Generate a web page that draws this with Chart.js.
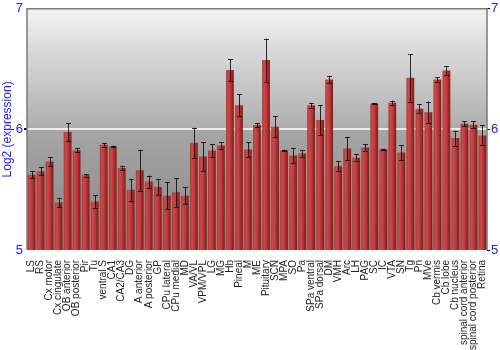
<!DOCTYPE html>
<html>
<head>
<meta charset="utf-8">
<script src="https://cdn.jsdelivr.net/npm/chart.js@4"></script>
<style>
html,body{margin:0;padding:0;background:#fff;}
#wrap{width:500px;height:350px;}
</style>
</head>
<body>
<div id="wrap"><canvas id="c" width="500" height="350"></canvas></div>
<script>
const categories = ["LS","RS","Cx motor","Cx cingulate","OB anterior","OB posterior","Pir","Tu","ventral S","CA1","CA2/CA3","DG","A anterior","A posterior","GP","CPu lateral","CPu medial","MD","VA/VL","VPM/VPL","LG","MG","Hb","Pineal","M","ME","Pituitary","SCN","MPA","SO","Pa","SPa ventral","SPa dorsal","DM","VMH","Arc","LH","PAG","SC","IC","VTA","SN","Tg","Pn","MVe","Cb vermis","Cb lobe","Cb nucleus","spinal cord anterior","spinal cord posterior","Retina"];
const means = [5.625,5.653,5.733,5.394,5.978,5.828,5.619,5.403,5.872,5.858,5.68,5.5,5.661,5.567,5.522,5.45,5.478,5.45,5.889,5.775,5.825,5.867,6.492,6.2,5.833,6.036,6.575,6.022,5.828,5.783,5.8,6.2,6.078,6.414,5.694,5.842,5.764,5.85,6.214,5.836,6.222,5.808,6.428,6.172,6.142,6.414,6.489,5.928,6.047,6.039,5.95];
const errors = [0.028,0.033,0.037,0.04,0.075,0.015,0.01,0.053,0.014,0.008,0.02,0.09,0.17,0.05,0.068,0.11,0.12,0.072,0.125,0.12,0.05,0.028,0.09,0.09,0.062,0.017,0.178,0.089,0.005,0.064,0.028,0.02,0.124,0.032,0.04,0.097,0.028,0.026,0.004,0.003,0.017,0.061,0.197,0.039,0.089,0.017,0.037,0.062,0.021,0.029,0.083];
const yTicks = [5,6,7];
const yMin = 5, yMax = 7;
const axisTitle = "Log2 (expression)";

const BAR_PCT = 0.86;
const FONT = "'Liberation Sans', Arial, sans-serif";

const bgPlugin = {
  id: 'bg',
  beforeDraw(chart) {
    const {ctx, chartArea: a, scales} = chart;
    const y = scales.y;
    const p6 = y.getPixelForValue(6);
    ctx.save();
    let g = ctx.createLinearGradient(0, a.top, 0, p6);
    g.addColorStop(0, '#f2f2f2');
    g.addColorStop(1, '#adadad');
    ctx.fillStyle = g;
    ctx.fillRect(a.left, a.top, a.right - a.left, p6 - a.top);
    g = ctx.createLinearGradient(0, p6, 0, a.bottom);
    g.addColorStop(0, '#a6a6a6');
    g.addColorStop(1, '#868686');
    ctx.fillStyle = g;
    ctx.fillRect(a.left, p6, a.right - a.left, a.bottom - p6);
    ctx.restore();
  },
  afterDraw(chart) {
    const {ctx, chartArea: a} = chart;
    ctx.save();
    ctx.strokeStyle = '#7a7a7a';
    ctx.lineWidth = 1.5;
    ctx.beginPath();
    ctx.moveTo(a.left, a.bottom);
    ctx.lineTo(a.left, a.top);
    ctx.lineTo(a.right, a.top);
    ctx.lineTo(a.right, a.bottom);
    ctx.stroke();
    ctx.restore();
  }
};

const errPlugin = {
  id: 'err',
  afterDatasetsDraw(chart) {
    const {ctx, scales} = chart;
    const y = scales.y;
    const meta = chart.getDatasetMeta(0);
    ctx.save();
    ctx.strokeStyle = 'rgba(0,0,0,0.8)';
    ctx.lineWidth = 1;
    meta.data.forEach((bar, i) => {
      const x = Math.round(bar.x) + 0.5;
      const top = y.getPixelForValue(means[i] + errors[i]);
      const bot = y.getPixelForValue(means[i] - errors[i]);
      ctx.beginPath();
      ctx.moveTo(x, top); ctx.lineTo(x, bot);
      ctx.moveTo(x - 2.5, Math.round(top) + 0.5); ctx.lineTo(x + 2.5, Math.round(top) + 0.5);
      ctx.moveTo(x - 2.5, Math.round(bot) + 0.5); ctx.lineTo(x + 2.5, Math.round(bot) + 0.5);
      ctx.stroke();
    });
    ctx.restore();
  }
};

function barFill(context) {
  const chart = context.chart;
  const xs = chart.scales && chart.scales.x;
  if (!xs || context.dataIndex === undefined) return '#b83434';
  const cx = xs.getPixelForValue(context.dataIndex);
  const w = (xs.width / categories.length) * BAR_PCT;
  if (!isFinite(cx) || !isFinite(w) || w <= 0) return '#b83434';
  const g = chart.ctx.createLinearGradient(cx - w / 2, 0, cx + w / 2, 0);
  g.addColorStop(0, '#b03030');
  g.addColorStop(0.25, '#cc4a4a');
  g.addColorStop(0.6, '#b73636');
  g.addColorStop(1, '#7e1818');
  return g;
}

new Chart(document.getElementById('c'), {
  type: 'bar',
  data: {
    labels: categories,
    datasets: [{
      data: means,
      backgroundColor: barFill,
      borderWidth: 0,
      barPercentage: BAR_PCT,
      categoryPercentage: 1.0
    }]
  },
  options: {
    responsive: false,
    animation: false,
    devicePixelRatio: 1,
    layout: {padding: {top: 3, right: 0, left: 0, bottom: 0}},
    plugins: {legend: {display: false}, tooltip: {enabled: false}},
    scales: {
      x: {
        grid: {display: false},
        border: {display: false},
        ticks: {
          autoSkip: false, minRotation: 90, maxRotation: 90,
          color: '#222', padding: 2,
          font: {family: FONT, size: 10}
        },
        afterFit(s) { s.height = 100; }
      },
      y: {
        min: yMin, max: yMax,
        afterBuildTicks(s) { s.ticks = yTicks.map(v => ({value: v})); },
        border: {display: false},
        grid: {
          color: c => (c.tick && c.tick.value === 6) ? '#ececec' : 'rgba(0,0,0,0)',
          lineWidth: c => (c.tick && c.tick.value === 6) ? 2 : 0,
          tickColor: '#000', tickLength: 3, drawTicks: true
        },
        ticks: {color: '#1a1aff', padding: 1, font: {family: FONT, size: 13}},
        title: {display: true, text: axisTitle, color: '#1a1aff', padding: 0, font: {family: FONT, size: 12}},
        afterFit(s) { s.width = 27; }
      },
      y2: {
        position: 'right',
        min: yMin, max: yMax,
        afterBuildTicks(s) { s.ticks = yTicks.map(v => ({value: v})); },
        border: {display: false},
        grid: {drawOnChartArea: false, tickColor: '#000', tickLength: 3},
        ticks: {color: '#1a1aff', padding: 1, font: {family: FONT, size: 13}},
        afterFit(s) { s.width = 13; }
      }
    }
  },
  plugins: [bgPlugin, errPlugin]
});
</script>
</body>
</html>
